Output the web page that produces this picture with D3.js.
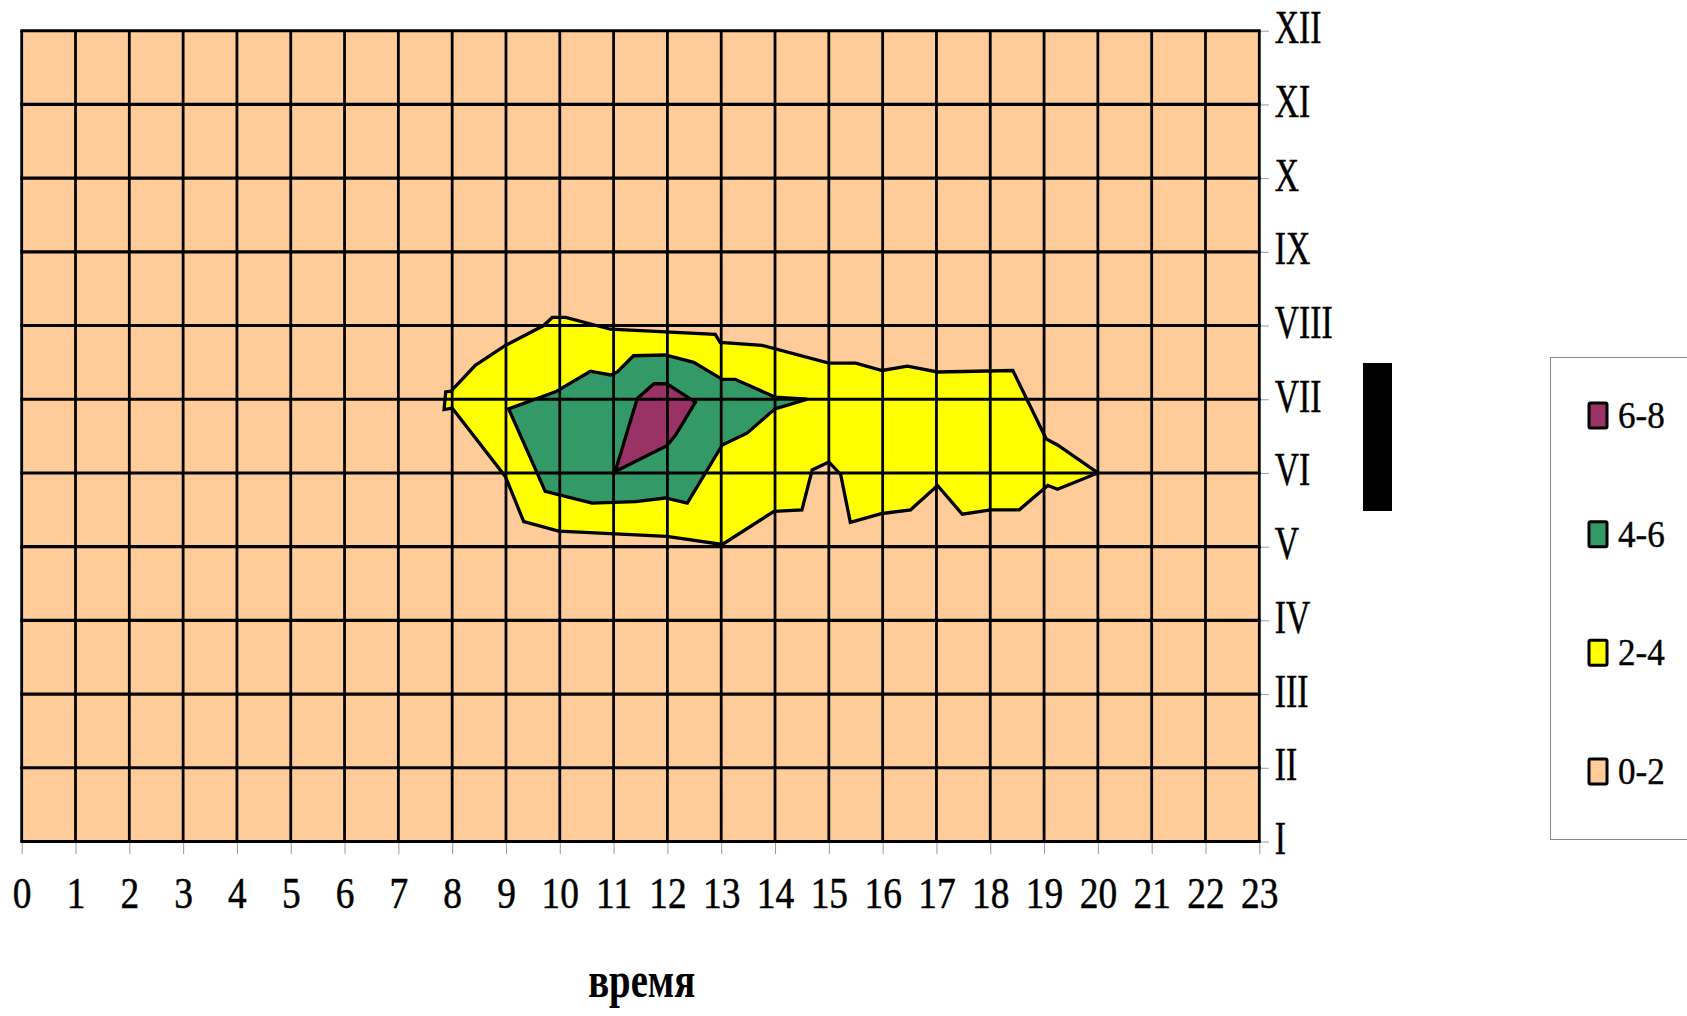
<!DOCTYPE html>
<html>
<head>
<meta charset="utf-8">
<script src="https://cdn.jsdelivr.net/npm/d3@7"></script>
<style>
  html, body { margin: 0; padding: 0; background: #fff; }
  svg { display: block; }
  text { font-family: "Liberation Serif", "Times New Roman", serif; fill: #000; }
</style>
</head>
<body>
<svg id="chart" width="1687" height="1016"></svg>
<script>
// ---- data ----
const hours = [0,1,2,3,4,5,6,7,8,9,10,11,12,13,14,15,16,17,18,19,20,21,22,23];
const months = [1,2,3,4,5,6,7,8,9,10,11,12];
const monthLabels = ["I","II","III","IV","V","VI","VII","VIII","IX","X","XI","XII"];
const legendLabels = ["6-8","4-6","2-4","0-2"];
const xTitle = "время";
const yTitle = "месяц";

// contour polygons: [hour, month]
const contour24 = [
  [7.98,7.11],[8.43,7.46],[8.99,7.73],[9.70,8.00],[9.86,8.11],[10.11,8.11],[10.94,7.95],
  [12.89,7.88],[12.98,7.77],[13.76,7.73],[15.00,7.49],[15.50,7.49],[15.99,7.39],[16.46,7.45],
  [17.02,7.37],[18.42,7.39],[19.04,6.46],[19.25,6.38],[20.00,6.00],[19.25,5.78],[19.07,5.83],
  [18.54,5.50],[18.01,5.50],[17.48,5.44],[17.02,5.83],[16.52,5.50],[15.99,5.45],[15.40,5.33],
  [15.22,5.98],[15.00,6.15],[14.69,6.04],[14.50,5.50],[13.98,5.48],[13.02,5.03],[11.99,5.14],
  [9.98,5.21],[9.33,5.34],[8.99,5.95],[8.00,6.88],[7.85,6.86],[7.88,7.10]
];
const contour46 = [
  [9.05,6.87],[9.92,7.10],[10.57,7.38],[10.94,7.33],[11.07,7.37],[11.37,7.59],[11.96,7.60],
  [12.49,7.50],[13.02,7.27],[13.26,7.27],[14.00,7.03],[14.60,7.00],[14.00,6.87],[13.48,6.54],
  [13.02,6.38],[12.37,5.59],[11.96,5.66],[11.41,5.61],[10.60,5.59],[9.73,5.75]
];
const contour68 = [
  [11.03,6.02],[11.44,7.01],[11.75,7.21],[11.99,7.21],[12.52,6.96],[12.15,6.51],[11.99,6.37]
];

// ---- styles ----
const colors = { "0-2": "#FFCC99", "2-4": "#FFFF00", "4-6": "#339966", "6-8": "#993366" };

const svg = d3.select("#chart");
const plotL = 21.7, plotR = 1259.3, plotT = 30.7, plotB = 841.5;

const x = d3.scaleLinear().domain([0, 23]).range([plotL, plotR]);
const y = d3.scaleLinear().domain([1, 12]).range([plotB, plotT]);

// background (0-2)
svg.append("rect")
  .attr("x", x(0)).attr("y", y(12))
  .attr("width", x(23) - x(0)).attr("height", y(1) - y(12))
  .attr("fill", colors["0-2"]);

const line = d3.line().x(d => x(d[0])).y(d => y(d[1])).curve(d3.curveLinearClosed);

const layers = [
  { key: "2-4", pts: contour24 },
  { key: "4-6", pts: contour46 },
  { key: "6-8", pts: contour68 }
];
svg.append("g").selectAll("path").data(layers).join("path")
  .attr("d", d => line(d.pts))
  .attr("fill", d => colors[d.key])
  .attr("stroke", "#000")
  .attr("stroke-width", 3.3)
  .attr("stroke-linejoin", "miter");

// grid
const grid = svg.append("g");
grid.selectAll("line.v").data(hours).join("line")
  .attr("class", "v")
  .attr("x1", d => x(d)).attr("x2", d => x(d))
  .attr("y1", y(12)).attr("y2", y(1))
  .attr("stroke", "#000").attr("stroke-width", 2.8);
grid.selectAll("line.h").data(months).join("line")
  .attr("class", "h")
  .attr("x1", x(0) - 1.4).attr("x2", x(23) + 1.4)
  .attr("y1", d => y(d)).attr("y2", d => y(d))
  .attr("stroke", "#000").attr("stroke-width", 3.1);

// bottom axis
const xAxis = svg.append("g")
  .attr("transform", `translate(0,${plotB + 1.5})`)
  .call(d3.axisBottom(x).tickValues(hours).tickSize(11).tickFormat(d => String(d)));
xAxis.select(".domain").remove();
xAxis.selectAll(".tick line").attr("stroke", "#999").attr("stroke-width", 1);
xAxis.selectAll(".tick text")
  .attr("y", 33.5)
  .attr("font-size", 44)
  .attr("font-family", "Liberation Serif")
  .attr("stroke", "#000").attr("stroke-width", 0.5)
  .attr("transform", "scale(0.85,1)");

// right axis
const yAxis = svg.append("g")
  .attr("transform", `translate(${plotR + 1.5},0)`)
  .call(d3.axisRight(y).tickValues(months).tickSize(8).tickFormat((d, i) => monthLabels[i]));
yAxis.select(".domain").remove();
yAxis.selectAll(".tick line").attr("stroke", "#999").attr("stroke-width", 1);
yAxis.selectAll(".tick text")
  .attr("x", 0)
  .attr("dy", "0.26em")
  .attr("font-size", 46)
  .attr("font-family", "Liberation Serif")
  .attr("text-anchor", "start")
  .attr("stroke", "#000").attr("stroke-width", 0.5)
  .attr("transform", "translate(14,0) scale(0.73,1)");

// x title
svg.append("text")
  .attr("transform", "translate(641.7,996.7) scale(0.76,1)")
  .attr("text-anchor", "middle")
  .attr("font-size", 51)
  .attr("font-weight", "bold")
  .text(xTitle);

// y title (rendered as a dark block in the reference)
const yt = svg.append("g").attr("transform", "translate(1377.5,437)");
yt.append("rect").attr("x", -14.5).attr("y", -74).attr("width", 29).attr("height", 148).attr("fill", "#000");
yt.append("text")
  .attr("transform", "rotate(-90)")
  .attr("text-anchor", "middle")
  .attr("dy", "0.3em")
  .attr("font-size", 26)
  .attr("font-weight", "bold")
  .attr("fill", "#000")
  .text(yTitle);

// legend
const legend = svg.append("g");
legend.append("rect")
  .attr("x", 1550.5).attr("y", 357.5)
  .attr("width", 300).attr("height", 482)
  .attr("fill", "#fff").attr("stroke", "#888").attr("stroke-width", 1);
const ly = d3.scaleLinear().domain([0, 3]).range([403, 759]);
const items = legend.selectAll("g.item").data(legendLabels).join("g")
  .attr("class", "item")
  .attr("transform", (d, i) => `translate(1589,${ly(i)})`);
items.append("rect")
  .attr("x", 0).attr("y", 0).attr("width", 18).attr("height", 25)
  .attr("rx", 1.5)
  .attr("fill", d => colors[d]).attr("stroke", "#000").attr("stroke-width", 3);
items.append("text")
  .attr("transform", "translate(29,25) scale(0.9,1)")
  .attr("font-size", 39)
  .attr("stroke", "#000").attr("stroke-width", 0.4)
  .text(d => d);
</script>
</body>
</html>
